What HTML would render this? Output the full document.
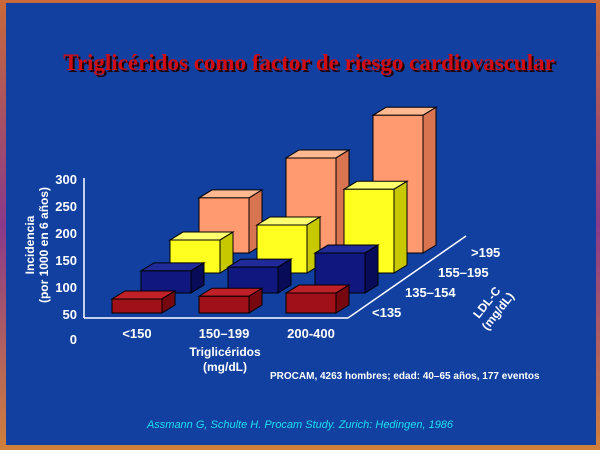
<!DOCTYPE html>
<html><head><meta charset="utf-8"><style>
html,body{margin:0;padding:0}
body{width:600px;height:450px;overflow:hidden;background:linear-gradient(180deg,#c86a3a,#8a3a8a 50%,#d0803a);position:relative;font-family:"Liberation Sans",sans-serif}
#panel{position:absolute;left:6px;top:3px;width:590px;height:442px;background:#1240a0}
svg{position:absolute;left:0;top:0}
</style></head><body>
<div id="panel"></div>
<svg id="chart" width="600" height="450">
<text x="311" y="72" text-anchor="middle" font-family="Liberation Serif, serif" font-weight="bold" font-size="23" fill="#200">Triglicéridos como factor de riesgo cardiovascular</text>
<text x="309" y="70" text-anchor="middle" font-family="Liberation Serif, serif" font-weight="bold" font-size="23" fill="#d00c10">Triglicéridos como factor de riesgo cardiovascular</text>
<g id="bars"></g>
<g id="axes" stroke="#fff" stroke-width="1.5" fill="none">
<line x1="84" y1="178" x2="84" y2="318"/>
<line x1="84" y1="318" x2="348" y2="318"/>
<line x1="348" y1="318" x2="466" y2="236"/>
</g>
<g id="labels" fill="#fff" font-weight="bold" font-size="13"></g>
<text transform="translate(34,245) rotate(-90)" text-anchor="middle" fill="#fff" font-weight="bold" font-size="12"><tspan x="0" dy="0">Incidencia</tspan><tspan x="0" dy="14">(por 1000 en 6 años)</tspan></text>
<text x="225" y="356" text-anchor="middle" fill="#fff" font-weight="bold" font-size="12"><tspan x="225">Triglicéridos</tspan><tspan x="225" dy="15">(mg/dL)</tspan></text>
<text transform="translate(490,305) rotate(-52)" text-anchor="middle" fill="#fff" font-weight="bold" font-size="12"><tspan x="0">LDL-C</tspan><tspan x="0" dy="14">(mg/dL)</tspan></text>
<text x="270" y="379" fill="#fff" font-weight="bold" font-size="10">PROCAM, 4263 hombres; edad: 40–65 años, 177 eventos</text>
<text x="300" y="428" text-anchor="middle" fill="#1ee0f0" font-style="italic" font-size="11">Assmann G, Schulte H. Procam Study. Zurich: Hedingen, 1986</text>
</svg>
<script>
const groups=["<150","150–199","200-400"];
const rows=["<135","135–154","155–195",">195"];
const yTicks=[0,50,100,150,200,250,300];
const red=[26,31,37];
const blue=[41,48,74];
const yellow=[61,89,155];
const orange=[102,176,255];
const series=[red,blue,yellow,orange];
const colors=[["#a01018","#780810","#c02028"],["#101880","#080c58","#202a98"],["#ffff20","#c8c800","#ffff70"],["#ff9a70","#d87450","#ffb890"]];
const NS="http://www.w3.org/2000/svg";
const K=0.54, BW=50, DX=13, DY=8;
function gx(g,r){return 112+g*87+r*29;}
function rowBase(r){return 313-r*20;}
function yTick(v){return 314-(v-50)*K;}
const bars=document.getElementById('bars');
function poly(pts,fill){const p=document.createElementNS(NS,'polygon');p.setAttribute('points',pts.map(a=>a.join(',')).join(' '));p.setAttribute('fill',fill);p.setAttribute('stroke','#000');p.setAttribute('stroke-width','1');return p;}
for(let r=3;r>=0;r--){for(let g=0;g<groups.length;g++){
 const v=series[r][g];const x=gx(g,r),b=rowBase(r),t=b-v*K;
 const el=document.createElementNS(NS,'g');
 
 
 el.appendChild(poly([[x,t],[x+BW,t],[x+BW+DX,t-DY],[x+DX,t-DY]],colors[r][2]));
 el.appendChild(poly([[x+BW,t],[x+BW+DX,t-DY],[x+BW+DX,b-DY],[x+BW,b]],colors[r][1]));
 el.appendChild(poly([[x,t],[x+BW,t],[x+BW,b],[x,b]],colors[r][0]));
 bars.appendChild(el);
}}
const labels=document.getElementById('labels');
function txt(x,y,s,anchor){const t=document.createElementNS(NS,'text');t.setAttribute('x',x);t.setAttribute('y',y);if(anchor)t.setAttribute('text-anchor',anchor);t.textContent=s;labels.appendChild(t);return t;}
yTicks.forEach(v=>{const y=v===0?344:yTick(v)+5;const t=txt(77,y,String(v),'end');
 
 });
groups.forEach((gname,g)=>{const t=txt(gx(g,0)+25,338,gname,'middle');
 
 });
rows.forEach((rn,r)=>{const t=txt(372+r*33,317-r*20,rn,'start');
 
 });
</script>
</body></html>
